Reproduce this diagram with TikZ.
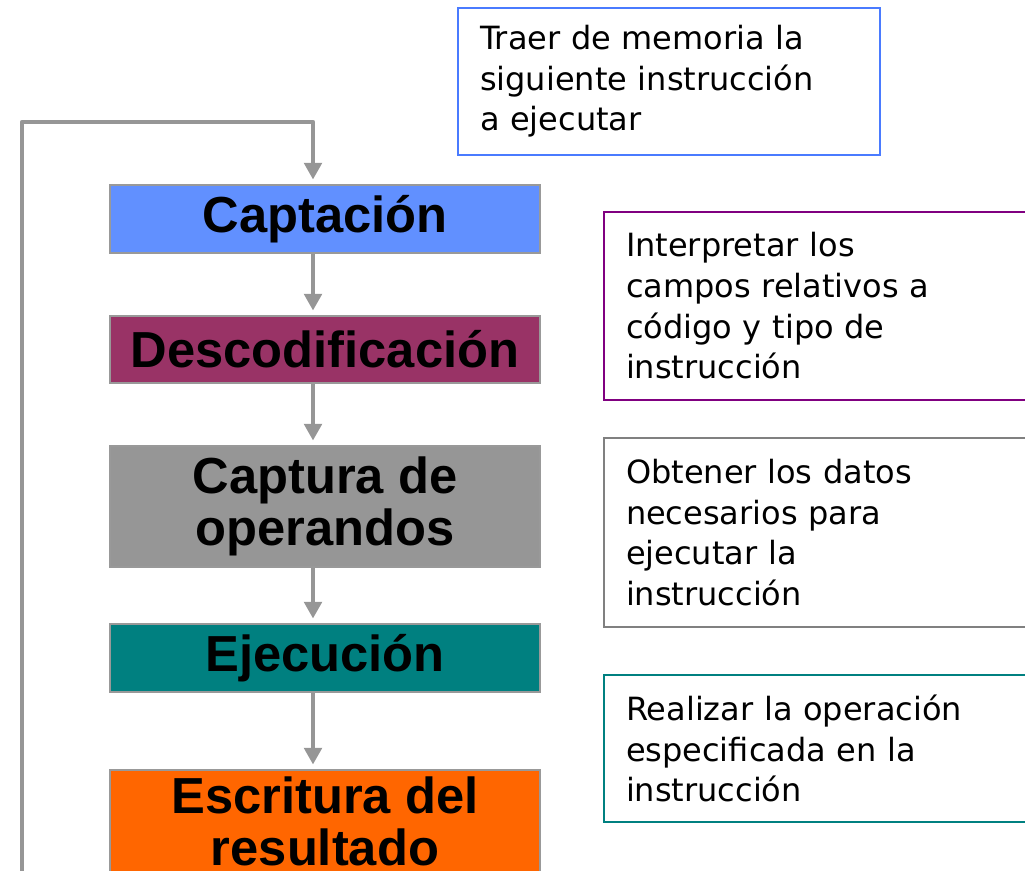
\documentclass[tikz,border=0pt]{standalone}
\usepackage{fontspec}
\setmainfont{DejaVu Sans}
\newfontfamily\rotulo{Liberation Sans}
\usetikzlibrary{arrows.meta,positioning}

\definecolor{azulcap}{HTML}{6190FF}
\definecolor{granate}{HTML}{993366}
\definecolor{griscap}{HTML}{969696}
\definecolor{verdeazul}{HTML}{008080}
\definecolor{naranja}{HTML}{FF6600}
\definecolor{bordegris}{HTML}{999999}
\definecolor{flechagris}{HTML}{969696}
\definecolor{azulborde}{HTML}{4A7BFF}
\definecolor{morado}{HTML}{800080}
\definecolor{grisnota}{HTML}{808080}

\begin{document}
\begin{tikzpicture}[x=0.75pt, y=-0.75pt,
    paso/.style={draw=bordegris, line width=2.2pt, minimum width=322.5pt, inner sep=0pt,
        align=center, font=\rotulo\bfseries\fontsize{38}{39}\selectfont},
    nota/.style={line width=1.8pt, inner xsep=16.5pt, inner ysep=0pt, align=left,
        font=\fontsize{24}{30.5}\selectfont},
    flecha/.style={draw=flechagris, line width=3.6pt, line join=round, shorten >=3pt,
        -{Triangle[width=13pt,length=12.5pt]}}]
    \useasboundingbox (0,0) rectangle (1025,871);
    \clip (0,0) rectangle (1025,871);
    \node[paso, fill=azulcap, minimum height=51pt] (capt) at (325,219) {Captación};
    \node[paso, fill=granate, minimum height=50.25pt] (desc) at (325,349.5) {Descodificación};
    \node[paso, fill=griscap, minimum height=90.75pt] (oper) at (325,506.5) {Captura de\\operandos};
    \node[paso, fill=verdeazul, minimum height=51pt] (ejec) at (325,658) {Ejecución};
    \node[paso, fill=naranja, minimum height=76.5pt] (escr) at (325,821) {Escritura del\\resultado};
    \node[nota, draw=azulborde, text width=283.5pt, minimum height=110.25pt] (traer) at (669,81.5)
        {Traer de memoria la\\siguiente instrucción\\a ejecutar};
    \node[nota, draw=morado, text width=294pt, minimum height=141pt] (interp) at (822,306)
        {Interpretar los\\campos relativos a\\código y tipo de\\instrucción};
    \node[nota, draw=grisnota, text width=294pt, minimum height=141.75pt] (obten) at (822,532.5)
        {Obtener los datos\\necesarios para\\ejecutar la\\instrucción};
    \node[nota, draw=verdeazul, text width=294pt, minimum height=110.25pt] (reali) at (822,748.5)
        {Realizar la operación\\especificada en la\\instrucción};
    \coordinate (eje) at (313,0);
    \coordinate (abajo) at (22,905);
    \coordinate (arriba) at (22,122);
    \draw[flecha] (capt.south -| eje) -- (desc.north -| eje);
    \draw[flecha] (desc.south -| eje) -- (oper.north -| eje);
    \draw[flecha] (oper.south -| eje) -- (ejec.north -| eje);
    \draw[flecha] (ejec.south -| eje) -- (escr.north -| eje);
    \draw[flecha] (escr.south -| eje) |- (abajo) -- (arriba) -| (capt.north -| eje);
\end{tikzpicture}
\end{document}
